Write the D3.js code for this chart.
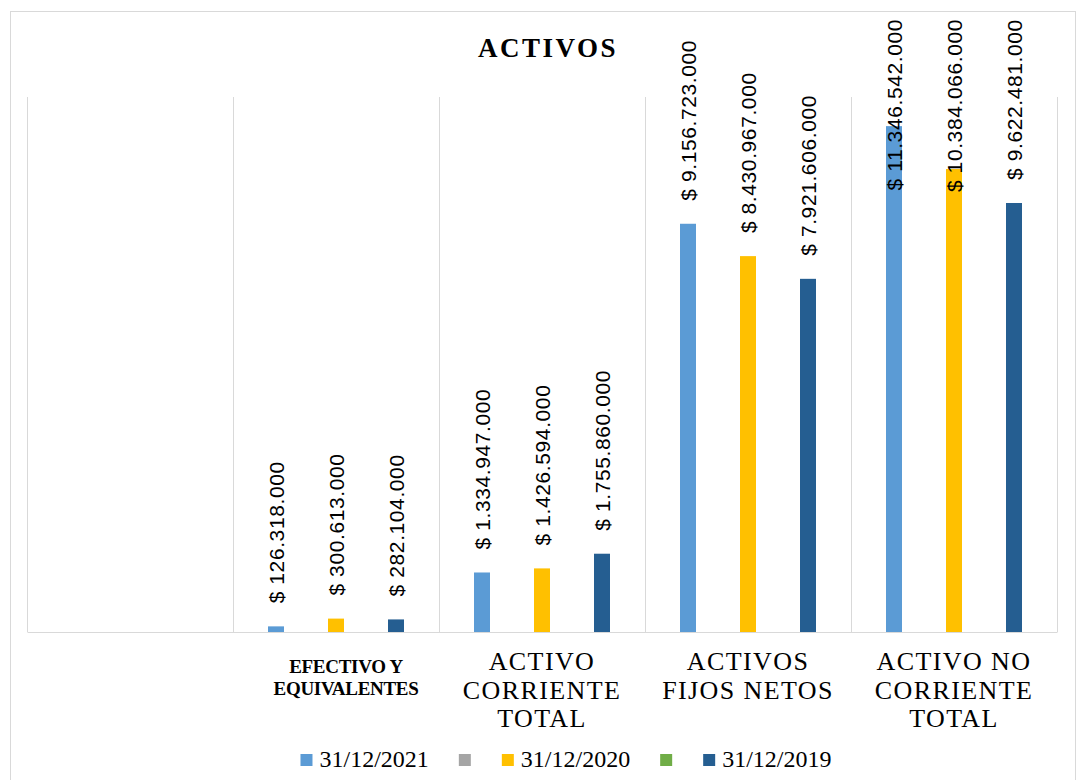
<!DOCTYPE html>
<html>
<head>
<meta charset="utf-8">
<title>Activos</title>
<style>
  body { margin: 0; background: #fff; }
  svg { display: block; }
</style>
</head>
<body>
<div id="chart"></div>
<script src="https://cdn.jsdelivr.net/npm/d3@7"></script>
<script>
(function(d3) {
  'use strict';
  // data
  var categories = ['', 'EFECTIVO Y EQUIVALENTES', 'ACTIVO CORRIENTE TOTAL', 'ACTIVOS FIJOS NETOS', 'ACTIVO NO CORRIENTE TOTAL'];
  var tickLines = [[], ['EFECTIVO Y', 'EQUIVALENTES'], ['ACTIVO', 'CORRIENTE', 'TOTAL'], ['ACTIVOS', 'FIJOS NETOS'], ['ACTIVO NO', 'CORRIENTE', 'TOTAL']];
  var seriesNames = ['31/12/2021', '', '31/12/2020', '', '31/12/2019'];
  var values2021 = [null, 126318000, 1334947000, 9156723000, 11346542000];
  var valuesGray = [null, null, null, null, null];
  var values2020 = [null, 300613000, 1426594000, 8430967000, 10384066000];
  var valuesGreen = [null, null, null, null, null];
  var values2019 = [null, 282104000, 1755860000, 7921606000, 9622481000];
  var colors = ['#5B9BD5', '#A5A5A5', '#FFC000', '#70AD47', '#255E91'];

  var series = [values2021, valuesGray, values2020, valuesGreen, values2019].map(function(v, i) {
    return { name: seriesNames[i], values: v, color: colors[i] };
  });

  var width = 1077, height = 780;
  var left = 27, right = 1057, top = 97, bottom = 632;
  var serif = '"Liberation Serif", "Times New Roman", serif';
  var sans = '"Liberation Sans", Arial, sans-serif';

  var svg = d3.select('#chart').append('svg')
    .attr('width', width)
    .attr('height', height);

  // outer chart border
  svg.append('rect')
    .attr('x', 10.5).attr('y', 11.5)
    .attr('width', 1065).attr('height', 790)
    .attr('fill', '#fff')
    .attr('stroke', '#d9d9d9');

  svg.append('text')
    .attr('x', 548).attr('y', 57)
    .attr('text-anchor', 'middle')
    .attr('font-family', serif)
    .attr('font-weight', 'bold')
    .attr('font-size', 27)
    .attr('letter-spacing', 2.5)
    .text('ACTIVOS');

  var x0 = d3.scaleBand().domain(d3.range(categories.length)).range([left, right]);
  var x1 = d3.scaleBand().domain(d3.range(series.length))
    .range([0, x0.bandwidth()])
    .paddingInner(0.467)
    .paddingOuter(1.167);
  var y = d3.scaleLinear().domain([0, 12e9]).range([bottom, top]);

  // vertical grid lines at category boundaries
  var bounds = x0.domain().map(function(i) { return x0(i); }).concat([right]);
  svg.append('g').selectAll('line')
    .data(bounds)
    .enter().append('line')
    .attr('x1', function(d) { return Math.round(d) + 0.5; })
    .attr('x2', function(d) { return Math.round(d) + 0.5; })
    .attr('y1', y(12e9))
    .attr('y2', y(0))
    .attr('stroke', '#d9d9d9');

  var points = function(s, si) {
    return s.values.map(function(v, ci) { return { value: v, ci: ci, si: si }; })
      .filter(function(d) { return d.value != null; });
  };

  // bars
  svg.append('g').selectAll('g')
    .data(series)
    .enter().append('g')
    .attr('fill', function(s) { return s.color; })
    .each(function(s, si) {
      d3.select(this).selectAll('rect')
        .data(points(s, si))
        .enter().append('rect')
        .attr('x', function(d) { return x0(d.ci) + x1(d.si); })
        .attr('width', x1.bandwidth())
        .attr('y', function(d) { return y(d.value); })
        .attr('height', function(d) { return y(0) - y(d.value); });
    });

  // x axis
  var axis = svg.append('g')
    .attr('transform', 'translate(0,' + bottom + ')')
    .call(d3.axisBottom(x0).tickSize(0).tickFormat(''));
  axis.select('.domain').attr('stroke', '#d9d9d9');
  axis.selectAll('.tick').each(function(i) {
    var bold = i === 1;
    var t = d3.select(this).append('text')
      .attr('fill', '#000')
      .attr('text-anchor', 'middle')
      .attr('font-family', serif)
      .attr('font-weight', bold ? 'bold' : 'normal')
      .attr('font-size', bold ? 19 : 26)
      .attr('letter-spacing', bold ? -0.3 : 1.4);
    tickLines[i].forEach(function(l, k) {
      t.append('tspan')
        .attr('x', bold ? 10 : 0)
        .attr('y', bold ? 41 + k * 22 : 38 + k * 28.5)
        .text(l);
    });
  });

  // data labels
  var fmt = d3.formatLocale({ decimal: ',', thousands: '.', grouping: [3], currency: ['$ ', ''] }).format('$,');
  series.forEach(function(s, si) {
    svg.append('g').selectAll('text')
      .data(points(s, si))
      .enter().append('text')
      .attr('font-family', sans)
      .attr('font-size', 21)
      .attr('letter-spacing', 0.6)
      .attr('fill', '#000')
      .text(function(d) { return fmt(d.value); })
      .each(function(d) {
        var len = this.getComputedTextLength();
        var cx = x0(d.ci) + x1(d.si) + x1.bandwidth() / 2;
        var ys = Math.max(y(d.value) - 23, 19 + len);
        d3.select(this).attr('transform', 'translate(' + (cx + 8) + ',' + ys + ') rotate(-90)');
      });
  });

  // legend
  var legend = svg.append('g');
  var lx = 0;
  series.forEach(function(s) {
    var item = legend.append('g').attr('transform', 'translate(' + lx + ',0)');
    item.append('rect').attr('width', 12).attr('height', 12).attr('fill', s.color);
    if (s.name) {
      var txt = item.append('text')
        .attr('x', 19).attr('y', 13)
        .attr('font-family', serif)
        .attr('font-size', 24)
        .attr('fill', '#000')
        .text(s.name);
      lx += 19 + txt.node().getComputedTextLength() + 30;
    } else {
      lx += 43;
    }
  });
  var lw = lx - 30;
  legend.attr('transform', 'translate(' + (566 - lw / 2) + ',754)');
})(window.d3);
</script>
</body>
</html>
